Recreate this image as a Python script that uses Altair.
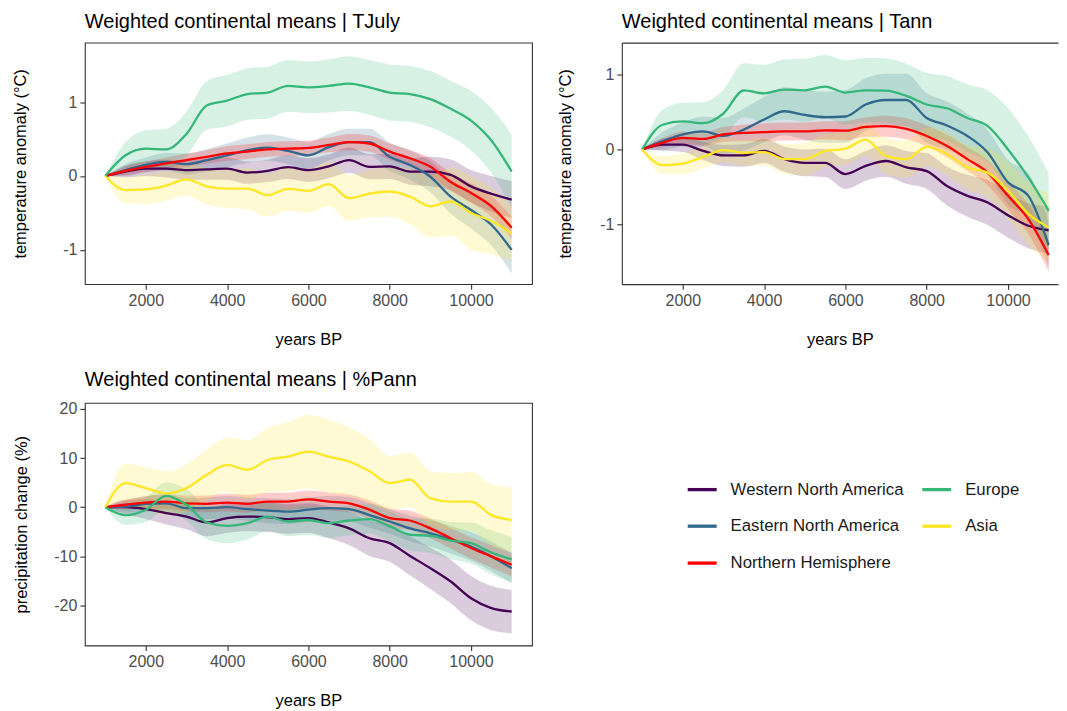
import altair as alt
import pandas as pd

FONT = "Liberation Sans"

YEARS = list(range(1000, 11001, 500))
X_TICKS = [2000, 4000, 6000, 8000, 10000]

SERIES = ["Western North America", "Eastern North America", "Northern Hemisphere", "Europe", "Asia"]
COLORS = ["#440154", "#31688E", "#FF0000", "#35B779", "#FDE725"]

# ---- TJuly (mean, band half-width) ----
TJULY_WNA = [0, 0.06, 0.10, 0.10, 0.08, 0.09, 0.10, 0.045, 0.07, 0.12, 0.08, 0.13, 0.215, 0.125, 0.13, 0.06, 0.06, 0.015, -0.14, -0.24, -0.32]
TJULY_ENA = [0, 0.08, 0.15, 0.19, 0.16, 0.215, 0.28, 0.35, 0.385, 0.34, 0.28, 0.39, 0.46, 0.46, 0.26, 0.15, -0.01, -0.28, -0.46, -0.66, -1.0]
TJULY_NH = [0, 0.07, 0.125, 0.17, 0.215, 0.26, 0.305, 0.33, 0.36, 0.37, 0.38, 0.42, 0.46, 0.44, 0.33, 0.24, 0.125, -0.08, -0.23, -0.41, -0.70]
TJULY_EU = [0, 0.28, 0.37, 0.36, 0.57, 0.955, 1.02, 1.11, 1.13, 1.22, 1.20, 1.22, 1.25, 1.20, 1.13, 1.11, 1.04, 0.91, 0.75, 0.48, 0.06]
TJULY_AS = [0, -0.19, -0.18, -0.13, -0.045, -0.14, -0.17, -0.17, -0.26, -0.175, -0.20, -0.11, -0.30, -0.24, -0.21, -0.28, -0.41, -0.345, -0.50, -0.61, -0.78]

TJULY_WNA_SD = [0, 0.08, 0.10, 0.12, 0.13, 0.14, 0.15, 0.15, 0.15, 0.16, 0.16, 0.16, 0.17, 0.17, 0.17, 0.18, 0.20, 0.21, 0.22, 0.24, 0.25]
TJULY_ENA_SD = [0, 0.08, 0.10, 0.12, 0.14, 0.15, 0.16, 0.17, 0.18, 0.18, 0.18, 0.18, 0.18, 0.18, 0.19, 0.20, 0.21, 0.23, 0.25, 0.28, 0.32]
TJULY_NH_SD = [0, 0.06, 0.07, 0.08, 0.09, 0.09, 0.10, 0.10, 0.10, 0.10, 0.10, 0.10, 0.11, 0.11, 0.11, 0.11, 0.12, 0.12, 0.13, 0.14, 0.15]
TJULY_EU_SD = [0, 0.18, 0.25, 0.28, 0.30, 0.33, 0.35, 0.35, 0.35, 0.35, 0.35, 0.36, 0.37, 0.37, 0.38, 0.38, 0.38, 0.38, 0.40, 0.44, 0.50]
TJULY_AS_SD = [0, 0.18, 0.20, 0.20, 0.22, 0.25, 0.26, 0.28, 0.29, 0.30, 0.30, 0.30, 0.31, 0.32, 0.34, 0.38, 0.42, 0.46, 0.50, 0.45, 0.38]

# ---- Tann ----
TANN_WNA = [0, 0.065, 0.065, -0.02, -0.08, -0.08, -0.02, -0.13, -0.18, -0.18, -0.33, -0.22, -0.155, -0.24, -0.29, -0.49, -0.62, -0.71, -0.88, -1.02, -1.08]
TANN_ENA = [0, 0.11, 0.20, 0.24, 0.18, 0.265, 0.40, 0.51, 0.46, 0.43, 0.44, 0.60, 0.66, 0.66, 0.42, 0.32, 0.18, -0.04, -0.44, -0.62, -1.28]
TANN_NH = [0, 0.09, 0.155, 0.14, 0.20, 0.22, 0.23, 0.24, 0.24, 0.255, 0.25, 0.30, 0.31, 0.275, 0.18, 0.045, -0.13, -0.31, -0.62, -0.93, -1.41]
TANN_EU = [0, 0.33, 0.375, 0.35, 0.48, 0.79, 0.75, 0.80, 0.79, 0.84, 0.76, 0.79, 0.785, 0.715, 0.60, 0.55, 0.42, 0.31, 0.0, -0.375, -0.82]
TANN_AS = [0, -0.21, -0.19, -0.10, -0.01, -0.045, -0.035, -0.13, -0.13, -0.02, 0.01, 0.13, -0.09, -0.13, 0.035, -0.065, -0.24, -0.31, -0.55, -0.86, -1.04]

TANN_WNA_SD = [0, 0.08, 0.10, 0.12, 0.14, 0.15, 0.16, 0.17, 0.18, 0.19, 0.20, 0.20, 0.21, 0.22, 0.24, 0.26, 0.28, 0.30, 0.30, 0.30, 0.32]
TANN_ENA_SD = [0, 0.12, 0.16, 0.20, 0.24, 0.28, 0.30, 0.32, 0.33, 0.34, 0.35, 0.35, 0.35, 0.35, 0.33, 0.32, 0.30, 0.30, 0.30, 0.30, 0.30]
TANN_NH_SD = [0, 0.06, 0.08, 0.09, 0.10, 0.11, 0.12, 0.12, 0.12, 0.12, 0.13, 0.13, 0.14, 0.14, 0.14, 0.15, 0.16, 0.17, 0.18, 0.20, 0.22]
TANN_EU_SD = [0, 0.20, 0.25, 0.28, 0.32, 0.36, 0.38, 0.40, 0.42, 0.42, 0.43, 0.43, 0.43, 0.43, 0.42, 0.43, 0.45, 0.48, 0.55, 0.55, 0.50]
TANN_AS_SD = [0, 0.12, 0.14, 0.15, 0.16, 0.17, 0.18, 0.20, 0.22, 0.22, 0.22, 0.22, 0.24, 0.25, 0.26, 0.28, 0.30, 0.33, 0.38, 0.42, 0.45]

# ---- %Pann ----
PANN_WNA = [0, 0, -0.4, -1.2, -1.9, -3.1, -2.2, -1.9, -2.0, -2.4, -2.2, -3.1, -4.3, -6.3, -7.3, -9.9, -12.4, -15.1, -18.5, -20.5, -21.2]
PANN_ENA = [0, 0.1, 0.7, 0.8, -0.2, -0.2, 0, -0.4, -0.7, -0.9, -0.5, -0.2, -0.4, -1.6, -2.9, -4.3, -5.3, -6.6, -8.0, -10.0, -12.4]
PANN_NH = [0, 0.5, 0.95, 1.15, 0.8, 0.7, 0.95, 0.7, 1.15, 1.15, 1.6, 1.15, 0.8, -0.5, -2.2, -2.7, -4.3, -6.3, -8.3, -10.0, -11.7]
PANN_EU = [0, -1.6, -0.5, 2.3, 0.5, -3.1, -3.8, -3.25, -1.9, -2.9, -2.6, -3.25, -2.7, -2.4, -3.9, -5.6, -5.8, -6.8, -7.3, -9.2, -10.6]
PANN_AS = [0, 4.9, 3.9, 2.8, 3.9, 6.6, 8.6, 7.6, 9.6, 10.3, 11.3, 10.3, 9.3, 7.3, 4.9, 5.6, 1.8, 1.15, 1.15, -1.6, -2.6]

PANN_WNA_SD = [0, 1.5, 2.0, 2.3, 2.6, 2.8, 3.0, 3.0, 3.0, 3.0, 3.0, 3.2, 3.4, 3.6, 3.8, 4.0, 4.2, 4.4, 4.5, 4.5, 4.4]
PANN_ENA_SD = [0, 1.2, 1.6, 1.8, 2.0, 2.2, 2.3, 2.4, 2.5, 2.5, 2.5, 2.5, 2.5, 2.5, 2.5, 2.6, 2.7, 2.8, 2.9, 3.0, 3.1]
PANN_NH_SD = [0, 1.0, 1.3, 1.5, 1.6, 1.7, 1.8, 1.8, 1.8, 1.8, 1.8, 1.8, 1.8, 1.9, 1.9, 2.0, 2.0, 2.1, 2.2, 2.3, 2.4]
PANN_EU_SD = [0, 2.0, 2.5, 2.8, 3.2, 3.4, 3.5, 3.3, 3.0, 3.0, 3.0, 3.0, 3.0, 3.0, 3.0, 3.2, 3.5, 3.8, 4.2, 4.5, 4.6]
PANN_AS_SD = [0, 4.0, 4.2, 4.5, 4.8, 5.2, 5.5, 6.0, 6.5, 7.0, 7.5, 7.5, 7.0, 6.5, 5.5, 5.5, 5.5, 5.8, 6.0, 6.3, 6.6]

BORDER = "#333333"


def build_df(means, sds):
    rows = []
    for s, m, sd in zip(SERIES, means, sds):
        for yr, v, w in zip(YEARS, m, sd):
            rows.append({"year": yr, "value": v, "lo": v - w, "hi": v + w, "series": s})
    return pd.DataFrame(rows)


def panel(title, ytitle, means, sds, ydomain, yticks, width, height, xdomain,
          title_x, open_right=False):
    df = build_df(means, sds)
    xs = alt.Scale(domain=xdomain, nice=False, zero=False)
    ys = alt.Scale(domain=ydomain, nice=False, zero=False)
    xaxis = alt.Axis(values=X_TICKS, labelExpr="'' + datum.value", title="years BP",
                     titleY=55, titleBaseline="middle",
                     domain=open_right, domainColor=BORDER, domainWidth=1.1)
    yaxis = alt.Axis(values=yticks, labelExpr="'' + datum.value", title=ytitle,
                     titleX=title_x, titleY=height / 2, titleBaseline="middle",
                     titleAngle=270,
                     domain=open_right, domainColor=BORDER, domainWidth=1.1)
    base = alt.Chart(df)
    layers = []
    for s, c in zip(SERIES, COLORS):
        layers.append(
            base.transform_filter(alt.datum.series == s)
            .mark_area(color=c, opacity=0.2, interpolate="monotone")
            .encode(x=alt.X("year:Q", scale=xs, axis=xaxis),
                    y=alt.Y("lo:Q", scale=ys, axis=yaxis),
                    y2="hi:Q")
        )
    for s, c in zip(SERIES, COLORS):
        layers.append(
            base.transform_filter(alt.datum.series == s)
            .mark_line(color=c, strokeWidth=2.3, interpolate="monotone")
            .encode(x=alt.X("year:Q", scale=xs, axis=xaxis),
                    y=alt.Y("value:Q", scale=ys, axis=yaxis))
        )
    inner = alt.layer(*layers)
    if open_right:
        top = base.mark_point(opacity=0).encode(
            x=alt.X("year:Q", scale=xs,
                    axis=alt.Axis(orient="top", labels=False, ticks=False, title="",
                                  domain=True, domainColor=BORDER, domainWidth=1.1)),
            y=alt.Y("value:Q", scale=ys, axis=yaxis),
        )
        out = alt.layer(inner, top).resolve_axis(x="independent").properties(
            view=alt.ViewBackground(stroke="transparent"))
    else:
        out = inner
    return out.properties(width=width, height=height, title=title)


p1 = panel("Weighted continental means | TJuly", "temperature anomaly (°C)",
           [TJULY_WNA, TJULY_ENA, TJULY_NH, TJULY_EU, TJULY_AS],
           [TJULY_WNA_SD, TJULY_ENA_SD, TJULY_NH_SD, TJULY_EU_SD, TJULY_AS_SD],
           [-1.464, 1.806], [-1, 0, 1], 448, 242, [500, 11500], -64)
p2 = panel("Weighted continental means | Tann", "temperature anomaly (°C)",
           [TANN_WNA, TANN_ENA, TANN_NH, TANN_EU, TANN_AS],
           [TANN_WNA_SD, TANN_ENA_SD, TANN_NH_SD, TANN_EU_SD, TANN_AS_SD],
           [-1.80, 1.427], [-1, 0, 1], 437, 242, [500, 11230], -56, open_right=True)
p3 = panel("Weighted continental means | %Pann", "precipitation change (%)",
           [PANN_WNA, PANN_ENA, PANN_NH, PANN_EU, PANN_AS],
           [PANN_WNA_SD, PANN_ENA_SD, PANN_NH_SD, PANN_EU_SD, PANN_AS_SD],
           [-28.1, 21.2], [-20, -10, 0, 10, 20], 448, 243, [500, 11500], -63)

# legend: Vega fills the two columns top-down, like ggplot's ncol = 2
leg_df = pd.DataFrame({"series": SERIES})
legend_panel = alt.Chart(leg_df).mark_point(opacity=0).encode(
    color=alt.Color(
        "series:N",
        scale=alt.Scale(domain=SERIES, range=COLORS),
        legend=alt.Legend(
            title=None, orient="none", legendX=64, legendY=70, columns=2,
            symbolType="stroke", symbolSize=841, symbolStrokeWidth=3.3,
            symbolOpacity=1, labelFontSize=16.8, labelFont=FONT, labelLimit=400,
            labelColor="#1A1A1A", labelOffset=12, rowPadding=11,
            columnPadding=10, padding=0,
        ),
    )
).properties(width=420, height=243, view=alt.ViewBackground(stroke="transparent"))

chart = alt.concat(
    p1, p2, p3, legend_panel, columns=2,
    spacing={"row": 20, "column": 24},
).resolve_scale(color="independent").properties(
    padding={"left": 4, "top": 2, "right": 0, "bottom": 4}
).configure_view(
    stroke=BORDER, strokeWidth=1.1
).configure_axis(
    grid=False, domain=False, tickColor=BORDER, tickSize=5, tickWidth=1.1,
    labelColor="#4D4D4D", labelFontSize=16, labelFont=FONT, labelPadding=3,
    titleFont=FONT, titleFontSize=16.5, titleFontWeight="normal", titleColor="#000000",
).configure_title(
    font=FONT, fontSize=20, fontWeight="normal", anchor="start", frame="group",
    color="#000000", baseline="alphabetic", offset=11,
)

chart.save("out.html", embed_options={"renderer": "svg", "actions": False})
